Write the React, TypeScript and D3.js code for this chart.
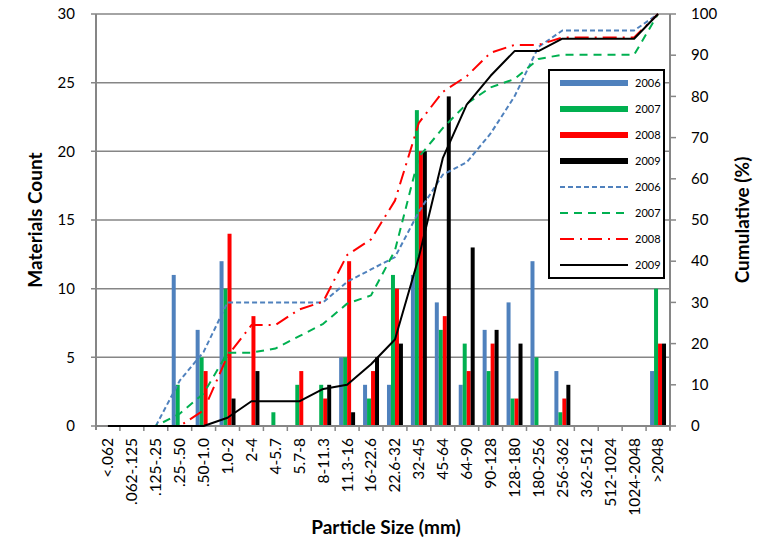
import React from "react";
import * as d3 from "d3";

const categories = [
  "<.062", ".062-.125", ".125-.25", ".25-.50", ".50-1.0", "1.0-2", "2-4", "4-5.7", "5.7-8", "8-11.3",
  "11.3-16", "16-22.6", "22.6-32", "32-45", "45-64", "64-90", "90-128", "128-180", "180-256",
  "256-362", "362-512", "512-1024", "1024-2048", ">2048",
];
const years = ["2006", "2007", "2008", "2009"];
const count2006 = [0, 0, 0, 11, 7, 12, 0, 0, 0, 0, 5, 3, 3, 11, 9, 3, 7, 9, 12, 4, 0, 0, 0, 4];
const count2007 = [0, 0, 0, 3, 5, 10, 0, 1, 3, 3, 5, 2, 11, 23, 7, 6, 4, 2, 5, 1, 0, 0, 0, 10];
const count2008 = [0, 0, 0, 0, 4, 14, 8, 0, 4, 2, 12, 4, 10, 20, 8, 4, 6, 2, 0, 2, 0, 0, 0, 6];
const count2009 = [0, 0, 0, 0, 0, 2, 4, 0, 0, 3, 1, 5, 6, 20, 24, 13, 7, 6, 0, 3, 0, 0, 0, 6];
const cum2006 = [0, 0, 0, 11, 18, 30, 30, 30, 30, 30, 35, 38, 41, 52, 61, 64, 71, 80, 92, 96, 96, 96, 96, 100];
const cum2007 = [0, 0, 0, 3, 7.9, 17.8, 17.8, 18.8, 21.8, 24.8, 29.7, 31.7, 42.6, 65.3, 72.3, 78.2, 82.2, 84.2, 89.1, 90.1, 90.1, 90.1, 90.1, 100];
const cum2008 = [0, 0, 0, 0, 3.8, 17, 24.5, 24.5, 28.3, 30.2, 41.5, 45.3, 54.7, 73.6, 81.1, 84.9, 90.6, 92.5, 92.5, 94.3, 94.3, 94.3, 94.3, 100];
const cum2009 = [0, 0, 0, 0, 0, 2, 6, 6, 6, 9, 10, 15, 21, 41, 65, 78, 85, 91, 91, 94, 94, 94, 94, 100];
const countTicks = [0, 5, 10, 15, 20, 25, 30];
const cumTicks = [0, 10, 20, 30, 40, 50, 60, 70, 80, 90, 100];

const colors = ["#4F81BD", "#00B050", "#FF0000", "#000000"];
const counts = [count2006, count2007, count2008, count2009];
const cums = [cum2006, cum2007, cum2008, cum2009];
const dashes = ["5,3", "8,6", "14,6,2,6", null];

const W = 776, H = 542;
const L = 96, R = 670, T = 14, B = 426;
const FONT = "Lato, 'Open Sans', sans-serif";
const AXC = "#868686";

export default function App() {
  const x = d3.scaleBand<string>().domain(categories).range([L, R]).padding(0);
  const bw = x.bandwidth();
  const xi = d3.scaleBand<string>().domain(years).range([bw / 6, (bw * 5) / 6]).padding(0);
  const y = d3.scaleLinear().domain([0, 30]).range([B, T]);
  const yc = d3.scaleLinear().domain([0, 100]).range([B, T]);
  const cx = (i: number) => (x(categories[i]) as number) + bw / 2;
  const line = d3
    .line<number>()
    .x((_, i) => cx(i))
    .y((d) => yc(d));

  const legendRows = [
    ...years.map((yr, k) => ({ label: yr, k, kind: "bar" })),
    ...years.map((yr, k) => ({ label: yr, k, kind: "line" })),
  ];
  const legX = 549, legY = 70, legW = 115, legH = 208;

  return (
    <svg width={W} height={H} style={{ position: "absolute", left: 0, top: 0, background: "#fff" }} fontFamily={FONT}>
      {/* gridlines */}
      {countTicks.map((t) => (
        <line key={"g" + t} x1={L - 5} x2={R} y1={y(t)} y2={y(t)} stroke={AXC} strokeWidth={1.5} />
      ))}
      {/* bars */}
      {counts.map((arr, k) =>
        arr.map((v, i) =>
          v > 0 ? (
            <rect
              key={"b" + k + "-" + i}
              x={(x(categories[i]) as number) + (xi(years[k]) as number)}
              y={y(v)}
              width={xi.bandwidth()}
              height={B - y(v)}
              fill={colors[k]}
            />
          ) : null
        )
      )}
      {/* axes */}
      <line x1={L} x2={L} y1={T} y2={B + 4} stroke={AXC} strokeWidth={2} />
      <line x1={R} x2={R} y1={T} y2={B + 4} stroke={AXC} strokeWidth={2} />
      <line x1={L} x2={R} y1={B} y2={B} stroke={AXC} strokeWidth={2} />
      {categories.map((c, i) => (
        <line key={"xt" + i} x1={(x(c) as number) + bw} x2={(x(c) as number) + bw} y1={B} y2={B + 5} stroke={AXC} strokeWidth={1.5} />
      ))}
      {cumTicks.map((t) => (
        <line key={"rt" + t} x1={R} x2={R + 6} y1={yc(t)} y2={yc(t)} stroke={AXC} strokeWidth={1.5} />
      ))}
      {/* lines */}
      {cums.map((arr, k) => (
        <path
          key={"l" + k}
          d={line(arr) as string}
          fill="none"
          stroke={colors[k]}
          strokeWidth={2}
          strokeDasharray={dashes[k] ?? undefined}
          strokeLinejoin="round"
        />
      ))}
      {/* left tick labels */}
      {countTicks.map((t) => (
        <text key={"ly" + t} x={75} y={y(t)} dy="0.35em" textAnchor="end" fontSize={15} fill="#000">
          {t}
        </text>
      ))}
      {cumTicks.map((t) => (
        <text key={"ry" + t} x={691} y={yc(t)} dy="0.35em" textAnchor="start" fontSize={15} fill="#000">
          {t}
        </text>
      ))}
      {/* x tick labels */}
      {categories.map((c, i) => (
        <text
          key={"xl" + i}
          transform={`translate(${cx(i)},${B + 12}) rotate(-90)`}
          textAnchor="end"
          dy="0.35em"
          fontSize={15.5}
          fill="#000"
        >
          {c}
        </text>
      ))}
      {/* axis titles */}
      <text x={386} y={534} textAnchor="middle" fontSize={19} fontWeight="bold" fill="#000">
        Particle Size (mm)
      </text>
      <text transform={`translate(42,220) rotate(-90)`} textAnchor="middle" fontSize={19} fontWeight="bold" fill="#000">
        Materials Count
      </text>
      <text transform={`translate(749,220) rotate(-90)`} textAnchor="middle" fontSize={19} fontWeight="bold" fill="#000">
        Cumulative (%)
      </text>
      {/* legend */}
      <rect x={legX} y={legY} width={legW} height={legH} fill="#fff" stroke="#000" strokeWidth={2} />
      {legendRows.map((r, j) => {
        const ry = 83 + j * 26;
        return (
          <g key={"lg" + j}>
            {r.kind === "bar" ? (
              <rect x={560} y={ry - 3} width={68} height={6} fill={colors[r.k]} />
            ) : (
              <line x1={560} x2={628} y1={ry} y2={ry} stroke={colors[r.k]} strokeWidth={2} strokeDasharray={dashes[r.k] ?? undefined} />
            )}
            <text x={635} y={ry} dy="0.35em" fontSize={11} fill="#000">
              {r.label}
            </text>
          </g>
        );
      })}
    </svg>
  );
}
